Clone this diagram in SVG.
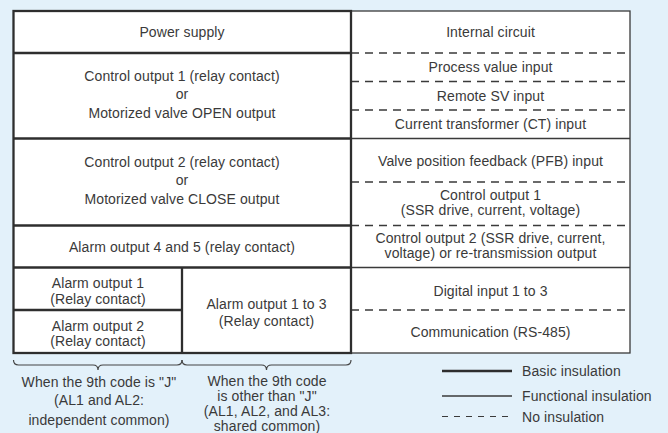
<svg xmlns="http://www.w3.org/2000/svg" width="668" height="433" viewBox="0 0 668 433">
<style>
text{font-family:"Liberation Sans",Arial,sans-serif;font-size:14px;fill:#3a3a3a;text-anchor:middle;letter-spacing:0.1px}
.l{text-anchor:start}
.bg{fill:#fff;stroke:none}
.thick{stroke:#2e2e2e;stroke-width:2.3;fill:none}
.thin{stroke:#3a3a3a;stroke-width:1.3;fill:none}
.dash{stroke:#3a3a3a;stroke-width:1.3;fill:none;stroke-dasharray:8 6}
.ldash{stroke:#3a3a3a;stroke-width:1.2;fill:none;stroke-dasharray:6 6}
.brace{stroke:#444;stroke-width:1.2;fill:none}
</style>
<rect x="0" y="0" width="668" height="433" fill="#e3f1fa"/>
<g id="right-box">
<rect x="351" y="11" width="279" height="342" class="bg"/>
<rect x="351" y="11" width="279" height="342" class="thin"/>
<line x1="351" y1="53" x2="630" y2="53" class="dash"/>
<line x1="351" y1="81.5" x2="630" y2="81.5" class="dash"/>
<line x1="351" y1="110" x2="630" y2="110" class="dash"/>
<line x1="351" y1="138.5" x2="630" y2="138.5" class="thin"/>
<line x1="351" y1="182" x2="630" y2="182" class="dash"/>
<line x1="351" y1="225.5" x2="630" y2="225.5" class="dash"/>
<line x1="351" y1="267.5" x2="630" y2="267.5" class="thin"/>
<line x1="351" y1="310" x2="630" y2="310" class="dash"/>
</g>
<g id="internal-circuit"><text x="490.5" y="37">Internal circuit</text></g>
<g id="process-value-input"><text x="490.5" y="72">Process value input</text></g>
<g id="remote-sv-input"><text x="490.5" y="101">Remote SV input</text></g>
<g id="ct-input"><text x="490.5" y="129">Current transformer (CT) input</text></g>
<g id="pfb-input"><text x="490.5" y="165.5">Valve position feedback (PFB) input</text></g>
<g id="control-output-1-ssr"><text x="490.5" y="200">Control output 1</text><text x="490.5" y="215">(SSR drive, current, voltage)</text></g>
<g id="control-output-2-ssr"><text x="490.5" y="243">Control output 2 (SSR drive, current,</text><text x="490.5" y="258">voltage) or re-transmission output</text></g>
<g id="digital-input"><text x="490.5" y="296">Digital input 1 to 3</text></g>
<g id="communication"><text x="490.5" y="337">Communication (RS-485)</text></g>
<g id="left-box">
<rect x="13.5" y="11" width="337.5" height="342" class="bg"/>
<rect x="13.5" y="11" width="337.5" height="342" class="thick"/>
<line x1="13.5" y1="53" x2="351" y2="53" class="thick"/>
<line x1="13.5" y1="138.5" x2="351" y2="138.5" class="thick"/>
<line x1="13.5" y1="225.5" x2="351" y2="225.5" class="thick"/>
<line x1="13.5" y1="267.5" x2="351" y2="267.5" class="thick"/>
<line x1="182" y1="267.5" x2="182" y2="353" class="thick"/>
<line x1="13.5" y1="310" x2="182" y2="310" class="thick"/>
</g>
<g id="power-supply"><text x="182" y="37">Power supply</text></g>
<g id="control-output-1"><text x="182" y="81">Control output 1 (relay contact)</text><text x="182" y="99">or</text><text x="182" y="117.5">Motorized valve OPEN output</text></g>
<g id="control-output-2"><text x="182" y="166.5">Control output 2 (relay contact)</text><text x="182" y="185">or</text><text x="182" y="203.5">Motorized valve CLOSE output</text></g>
<g id="alarm-output-4-5"><text x="182" y="251.5">Alarm output 4 and 5 (relay contact)</text></g>
<g id="alarm-output-1"><text x="98" y="288">Alarm output 1</text><text x="98" y="303.5">(Relay contact)</text></g>
<g id="alarm-output-2"><text x="98" y="331">Alarm output 2</text><text x="98" y="345.5">(Relay contact)</text></g>
<g id="alarm-output-1-3"><text x="266.5" y="309">Alarm output 1 to 3</text><text x="266.5" y="326">(Relay contact)</text></g>
<g id="connectors">
<path class="brace" d="M13.5,360 Q13.5,365 18.5,365 L93,365 Q98,365 98,370 Q98,365 103,365 L177,365 Q182,365 182,360"/>
<path class="brace" d="M182,360 Q182,365 187,365 L261.5,365 Q266.5,365 266.5,370 Q266.5,365 271.5,365 L346,365 Q351,365 351,360"/>
</g>
<g id="note-j"><text x="99" y="387">When the 9th code is "J"</text><text x="99" y="405">(AL1 and AL2:</text><text x="99" y="424.5">independent common)</text></g>
<g id="note-other"><text x="267" y="386">When the 9th code</text><text x="267" y="401">is other than "J"</text><text x="267" y="416">(AL1, AL2, and AL3:</text><text x="267" y="431">shared common)</text></g>
<g id="legend">
<line x1="442" y1="371" x2="512" y2="371" class="thick"/>
<line x1="442" y1="396" x2="512" y2="396" class="thin"/>
<line x1="442" y1="416.5" x2="512" y2="416.5" class="ldash"/>
<text class="l" x="522" y="376">Basic insulation</text>
<text class="l" x="522" y="401">Functional insulation</text>
<text class="l" x="522" y="421.5">No insulation</text>
</g>
</svg>
